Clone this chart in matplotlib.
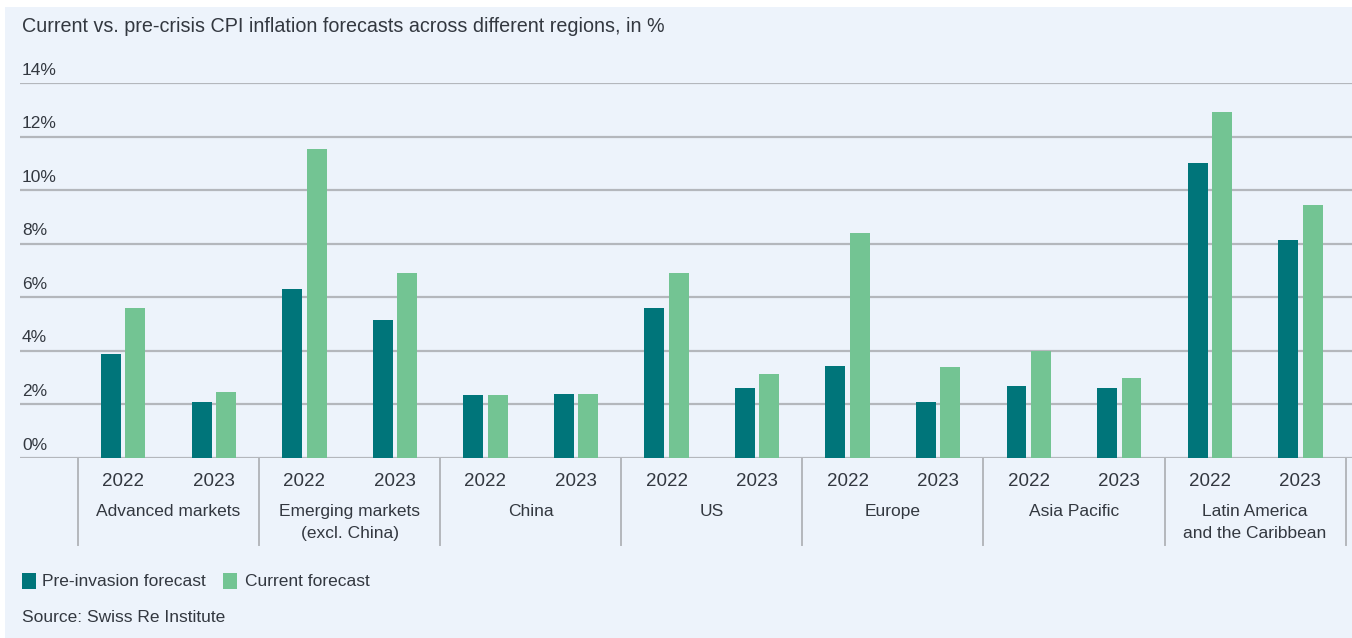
import numpy as np
import matplotlib.pyplot as plt
from matplotlib.patches import Rectangle

plt.rcParams['font.family'] = ['Liberation Sans', 'DejaVu Sans']

regions = ['Advanced markets', 'Emerging markets\n(excl. China)', 'China', 'US',
           'Europe', 'Asia Pacific', 'Latin America\nand the Caribbean']
years = ['2022', '2023']
pre_invasion = [3.9, 2.08, 6.32, 5.15, 2.34, 2.4, 5.6, 2.6, 3.43, 2.08, 2.68, 2.6, 11.03, 8.15]
current = [5.6, 2.47, 11.54, 6.9, 2.34, 2.4, 6.9, 3.13, 8.4, 3.4, 4.0, 3.0, 12.9, 9.45]
yticks = [0, 2, 4, 6, 8, 10, 12, 14]

c_pre = '#00757A'
c_cur = '#73C493'
bg = '#EDF3FB'
grid_c = '#B4B7BC'
text_c = '#333840'

fig = plt.figure(figsize=(13.52, 6.38), dpi=100)
fig.patch.set_facecolor('white')
fig.add_artist(Rectangle((5 / 1352, 0), 1 - 5 / 1352, 1 - 7 / 638, transform=fig.transFigure,
                         facecolor=bg, edgecolor='none', zorder=-10))

ax = fig.add_axes([20 / 1352, 1 - 458 / 638, 1 - 20 / 1352, 375 / 638])
ax.set_facecolor('none')
x = np.arange(len(pre_invasion))
w = 0.22
ax.bar(x - 0.135, pre_invasion, w, color=c_pre, zorder=3)
ax.bar(x + 0.135, current, w, color=c_cur, zorder=3)
ax.set_xlim(-1.14, 13.57)
ax.set_ylim(0, 14)
for t in yticks:
    ax.axhline(t, color=grid_c, lw=1.6, zorder=1)
    ax.text(0.0015, t + 0.48, f'{t}%', transform=ax.get_yaxis_transform(),
            ha='left', va='center', fontsize=12.5, color=text_c)
for s in ax.spines.values():
    s.set_visible(False)
ax.set_xticks([])
ax.set_yticks([])

tr = ax.get_xaxis_transform()
for k in range(len(regions) + 1):
    ax.plot([2 * k - 0.5, 2 * k - 0.5], [0, -0.232], transform=tr, color=grid_c,
            lw=1.4, clip_on=False)
for i in x:
    ax.text(i, -23 / 375, years[i % 2], transform=tr, ha='center', va='center',
            fontsize=13.5, color=text_c)
for k, r in enumerate(regions):
    ax.text(2 * k + 0.5, -46 / 375, r, transform=tr, ha='center', va='top',
            fontsize=12.5, color=text_c, linespacing=1.6)

fig.text(22 / 1352, 1 - 27 / 638, 'Current vs. pre-crisis CPI inflation forecasts across different regions, in %',
         ha='left', va='center', fontsize=14.2, color=text_c)

# legend
fig.add_artist(Rectangle((22 / 1352, 1 - 589 / 638), 14 / 1352, 16 / 638,
                         transform=fig.transFigure, facecolor=c_pre, edgecolor='none'))
fig.text(42 / 1352, 1 - 581 / 638, 'Pre-invasion forecast', ha='left', va='center',
         fontsize=12.5, color=text_c)
fig.add_artist(Rectangle((223 / 1352, 1 - 589 / 638), 14 / 1352, 16 / 638,
                         transform=fig.transFigure, facecolor=c_cur, edgecolor='none'))
fig.text(245 / 1352, 1 - 581 / 638, 'Current forecast', ha='left', va='center',
         fontsize=12.5, color=text_c)
fig.text(22 / 1352, 1 - 618 / 638, 'Source: Swiss Re Institute', ha='left', va='center',
         fontsize=12.5, color=text_c)

fig.savefig('out.png', dpi=100)
